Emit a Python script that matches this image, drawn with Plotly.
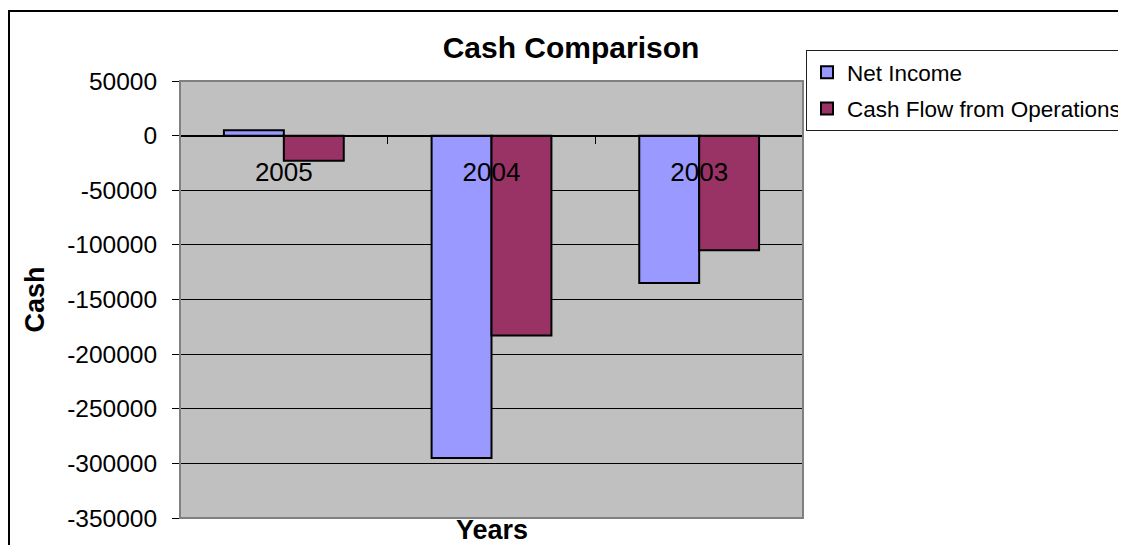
import plotly.graph_objects as go

years = ["2005", "2004", "2003"]
net_income = [5000, -295000, -135000]
cash_flow_ops = [-23000, -183000, -105000]
y_tick_vals = [50000, 0, -50000, -100000, -150000, -200000, -250000, -300000, -350000]
y_tick_text = ["50000", "0", "-50000", "-100000", "-150000", "-200000", "-250000", "-300000", "-350000"]

FONT = "Arial, Liberation Sans, sans-serif"
OFF = 8  # page body margin
W, H = 1126 - OFF, 545 - OFF
L, T = 180 - OFF, 81 - OFF
R = W - (803 - OFF)
B = H - (518 - OFF)
pw, ph = W - L - R, H - T - B

def px_x(p):
    return (p - OFF - L) / pw

def px_y(q):
    return (H - B - (q - OFF)) / ph

fig = go.Figure()
fig.add_trace(go.Bar(
    x=years, y=net_income, name="Net Income",
    marker=dict(color="#9999FF", line=dict(color="black", width=2)),
    legendgroup="a",
))
fig.add_trace(go.Bar(
    x=years, y=cash_flow_ops, name="Cash Flow from Operations",
    marker=dict(color="#993366", line=dict(color="black", width=2)),
    legendgroup="b",
))

ymin, ymax = -350000, 50000
zero_pos = (0 - ymin) / (ymax - ymin)

fig.update_layout(
    width=W, height=H,
    margin=dict(l=L, r=R, t=T, b=B, autoexpand=False),
    paper_bgcolor="white",
    plot_bgcolor="#C0C0C0",
    barmode="group",
    bargap=0.423,
    bargroupgap=0,
    font=dict(family=FONT, color="black"),
    title=dict(
        text="Cash Comparison",
        font=dict(family=FONT, size=30, weight="bold", color="black"),
        xref="paper", x=px_x(571), xanchor="center",
        yref="container", y=1 - (47 - OFF) / H, yanchor="middle",
    ),
    xaxis=dict(
        type="category",
        anchor="free", position=zero_pos,
        showline=True, linecolor="black", linewidth=1,
        ticks="outside", ticklen=7, tickcolor="black", tickwidth=1,
        tickson="boundaries",
        showgrid=False,
        tickfont=dict(family=FONT, size=26, color="black"),
        ticklabelstandoff=13,
    ),
    yaxis=dict(
        range=[ymin, ymax],
        tickvals=y_tick_vals, ticktext=y_tick_text,
        showgrid=True, gridcolor="black", gridwidth=1,
        zeroline=True, zerolinecolor="black", zerolinewidth=1,
        ticks="outside", ticklen=7, tickcolor="black",
        showline=False,
        tickfont=dict(family=FONT, size=24.5, color="black"),
        ticklabelstandoff=10,
    ),
    legend=dict(
        x=px_x(806), xanchor="left",
        y=px_y(50), yanchor="top",
        bgcolor="white",
        bordercolor="#202020", borderwidth=1,
        font=dict(family=FONT, size=22.5, color="black"),
        traceorder="grouped",
        tracegroupgap=4,
    ),
    showlegend=True,
    annotations=[
        dict(text="Cash", xref="paper", yref="paper", x=px_x(34), y=0.5,
             textangle=-90, showarrow=False, xanchor="center", yanchor="middle",
             font=dict(family=FONT, size=27, weight="bold", color="black")),
        dict(text="Years", xref="paper", yref="paper", x=0.5, y=px_y(530),
             showarrow=False, xanchor="center", yanchor="middle",
             font=dict(family=FONT, size=27, weight="bold", color="black")),
    ],
    shapes=[
        dict(type="rect", xref="paper", yref="paper", x0=0, x1=1, y0=0, y1=1,
             line=dict(color="#808080", width=2), layer="above"),
        dict(type="rect", xref="paper", yref="paper",
             x0=px_x(9), x1=px_x(1200), y0=px_y(600), y1=px_y(11),
             line=dict(color="black", width=2)),
    ],
)

fig.write_html("out.html")
